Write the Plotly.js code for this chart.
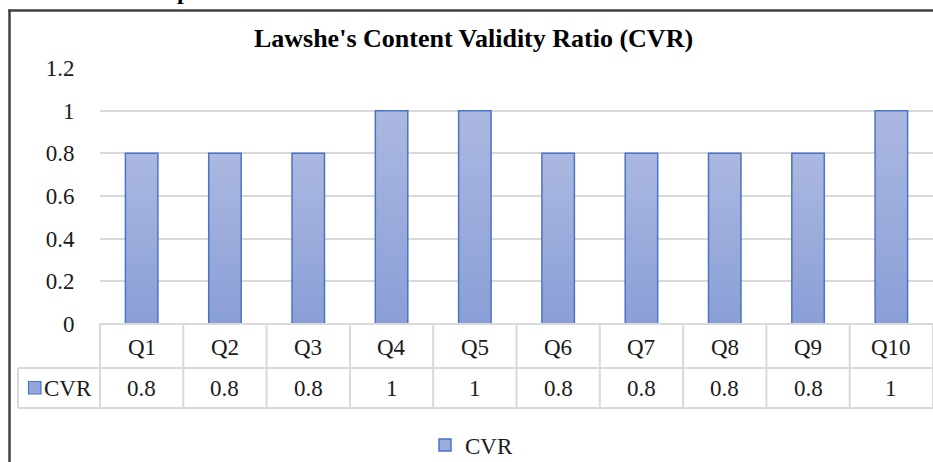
<!DOCTYPE html>
<html>
<head>
<meta charset="utf-8">
<script src="https://cdn.plot.ly/plotly-3.0.1.min.js"></script>
<style>
  html, body { margin: 0; padding: 0; background: #fff; overflow: hidden; }
  #wrap { position: relative; width: 933px; height: 462px; }
  #chart { width: 933px; height: 462px; }
  #cut { position: absolute; left: 177px; top: -21px; font: bold 24px "Liberation Serif", serif; line-height: 24px; color: #000; }
</style>
</head>
<body>
<div id="wrap">
  <div id="chart"></div>
  <div id="cut">p</div>
</div>
<script>
// ---- data ----
const categories = ["Q1", "Q2", "Q3", "Q4", "Q5", "Q6", "Q7", "Q8", "Q9", "Q10"];
const cvrValues  = [0.8, 0.8, 0.8, 1, 1, 0.8, 0.8, 0.8, 0.8, 1];
const seriesName = "CVR";
const yTicks     = [0, 0.2, 0.4, 0.6, 0.8, 1, 1.2];
const yTickText  = ["0", "0.2", "0.4", "0.6", "0.8", "1", "1.2"];
const chartTitle = "Lawshe's Content Validity Ratio (CVR)";

// ---- layout constants (pixels) ----
const W = 933, H = 462;
const L = 100, R = 0, T = 68, B = 138;
const plotW = W - L - R, plotH = H - T - B;
const px2x = px => (px - L) / plotW;          // page x -> paper x
const py2y = py => (H - B - py) / plotH;      // page y -> paper y

const serif = 'Liberation Serif, Times New Roman, serif';
const textColor = '#1a1a1a';
const gridC = '#d9d9d9';
const tableC = '#d9d9d9';
const barLine = '#4a74c6';

const n = categories.length;
const row1Top = 324, row1Bot = 368, row2Bot = 408, keyLeft = 18;

const shapes = [];
// table horizontal lines
shapes.push({type:'line', xref:'paper', yref:'paper', x0:0, x1:1, y0:py2y(row1Top), y1:py2y(row1Top), line:{color:tableC, width:2}});
shapes.push({type:'line', xref:'paper', yref:'paper', x0:px2x(keyLeft), x1:1, y0:py2y(row1Bot), y1:py2y(row1Bot), line:{color:tableC, width:2}});
shapes.push({type:'line', xref:'paper', yref:'paper', x0:px2x(keyLeft), x1:1, y0:py2y(row2Bot), y1:py2y(row2Bot), line:{color:tableC, width:2}});
// table vertical lines between category columns
for (let k = 0; k <= n; k++) {
  shapes.push({type:'line', xref:'paper', yref:'paper', x0:k/n, x1:k/n, y0:py2y(row1Top), y1:py2y(row2Bot), line:{color:tableC, width:2}});
}
// key cell left border
shapes.push({type:'line', xref:'paper', yref:'paper', x0:px2x(keyLeft), x1:px2x(keyLeft), y0:py2y(row1Bot), y1:py2y(row2Bot), line:{color:tableC, width:2}});
// key square in table
shapes.push({type:'rect', xref:'paper', yref:'paper', x0:px2x(28.5), x1:px2x(41), y0:py2y(381.5), y1:py2y(394), fillcolor:'#93a7dc', line:{color:barLine, width:1.2}});
// chart outer border (left and top)
shapes.push({type:'line', xref:'paper', yref:'paper', x0:px2x(9.5), x1:px2x(9.5), y0:py2y(9.5), y1:py2y(475), line:{color:'#404040', width:2.5}});
shapes.push({type:'line', xref:'paper', yref:'paper', x0:px2x(8.3), x1:px2x(940), y0:py2y(10.5), y1:py2y(10.5), line:{color:'#404040', width:2.5}});

const annotations = [];
categories.forEach((c, i) => {
  annotations.push({xref:'x', yref:'paper', x:c, y:py2y(347), text:c, showarrow:false, xanchor:'center', yanchor:'middle', font:{family:serif, size:23, color:textColor}});
  annotations.push({xref:'x', yref:'paper', x:c, y:py2y(388), text:String(cvrValues[i]), showarrow:false, xanchor:'center', yanchor:'middle', font:{family:serif, size:23, color:textColor}});
});
annotations.push({xref:'paper', yref:'paper', x:px2x(42), y:py2y(388), text:seriesName, showarrow:false, xanchor:'left', yanchor:'middle', font:{family:serif, size:23, color:textColor}});

const trace = {
  type: 'bar',
  x: categories,
  y: cvrValues,
  name: seriesName,
  width: 0.39,
  marker: { color: '#9aacdc', line: { color: barLine, width: 1.5 } },
  hoverinfo: 'none'
};

const layout = {
  width: W, height: H,
  margin: {l: L, r: R, t: T, b: B, pad: 0},
  paper_bgcolor: '#ffffff',
  plot_bgcolor: '#ffffff',
  title: {
    text: '<b>' + chartTitle + '</b>',
    font: {family: serif, size: 26, color: '#000000'},
    xref: 'container', yref: 'container',
    x: 473.5 / W, y: 1 - 38 / H,
    xanchor: 'center', yanchor: 'middle'
  },
  xaxis: {
    type: 'category',
    range: [-0.5, n - 0.5],
    showticklabels: false,
    showgrid: false, zeroline: false, showline: false, ticks: ''
  },
  yaxis: {
    range: [0, 1.2],
    tickvals: yTicks, ticktext: yTickText,
    ticks: 'outside', ticklen: 20, tickcolor: 'rgba(0,0,0,0)',
    tickfont: {family: serif, size: 23, color: textColor},
    showgrid: true, gridcolor: gridC, gridwidth: 2,
    zeroline: false, showline: false
  },
  showlegend: true,
  legend: {
    orientation: 'h',
    xref: 'container', yref: 'container',
    x: 425 / W, xanchor: 'left',
    y: 1 - 445 / H, yanchor: 'middle',
    font: {family: serif, size: 23, color: textColor},
    bgcolor: 'rgba(0,0,0,0)'
  },
  shapes: shapes,
  annotations: annotations
};

Plotly.newPlot('chart', [trace], layout, {displayModeBar: false, staticPlot: true}).then(gd => {
  try {
    const svg = gd.querySelector('svg.main-svg');
    const NS = 'http://www.w3.org/2000/svg';
    let defs = svg.querySelector('defs');
    if (!defs) { defs = document.createElementNS(NS, 'defs'); svg.insertBefore(defs, svg.firstChild); }
    const g = document.createElementNS(NS, 'linearGradient');
    g.setAttribute('id', 'cvrGrad');
    g.setAttribute('x1', '0'); g.setAttribute('y1', '0'); g.setAttribute('x2', '0'); g.setAttribute('y2', '1');
    [['0', '#abb8e0'], ['1', '#8a9fd7']].forEach(([o, c]) => {
      const s = document.createElementNS(NS, 'stop');
      s.setAttribute('offset', o); s.setAttribute('stop-color', c);
      g.appendChild(s);
    });
    defs.appendChild(g);
    gd.querySelectorAll('.barlayer .point path').forEach(p => { p.style.fill = 'url(#cvrGrad)'; });
  } catch (e) {}
});
</script>
</body>
</html>
